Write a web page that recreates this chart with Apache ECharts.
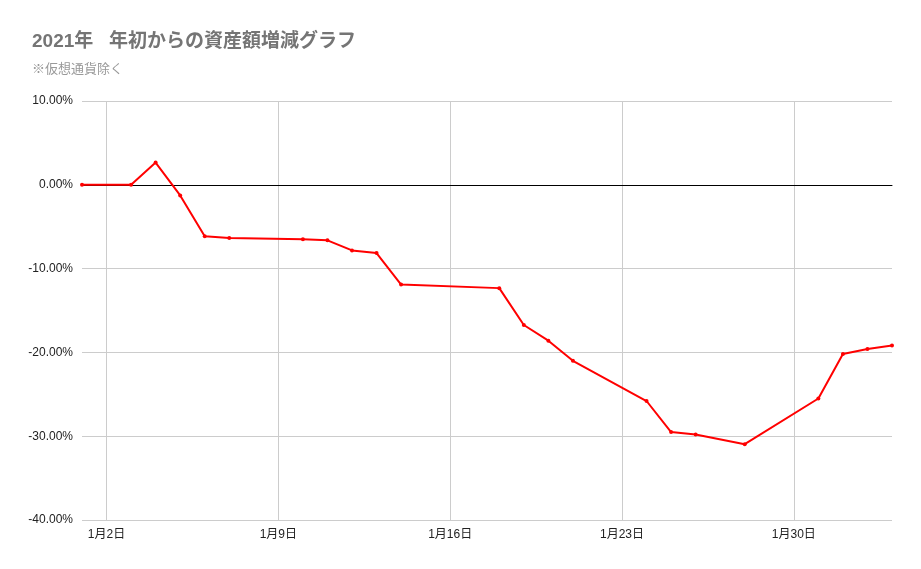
<!DOCTYPE html>
<html>
<head>
<meta charset="utf-8">
<script src="https://cdn.jsdelivr.net/npm/echarts@6/dist/echarts.min.js"></script>
<style>
html,body{margin:0;padding:0;background:#fff;}
#chart{width:921px;height:569px;}
</style>
</head>
<body>
<div id="chart"></div>
<script>
// 日付の並び（1月1日〜2月3日）
var days = [];
for (var d = 1; d <= 31; d++) days.push('1月' + d + '日');
for (var d = 1; d <= 3; d++) days.push('2月' + d + '日');

// 記録のある日と増減率(%)
var dates = ['1月1日','1月3日','1月4日','1月5日','1月6日','1月7日','1月10日','1月11日','1月12日','1月13日',
	'1月14日','1月18日','1月19日','1月20日','1月21日','1月24日','1月25日','1月26日','1月28日',
	'1月31日','2月1日','2月2日','2月3日'];
var rates = [0, 0, 2.65, -1.27, -6.15, -6.35, -6.5, -6.63, -7.83, -8.15,
	-11.9, -12.33, -16.73, -18.6, -21.0, -25.8, -29.5, -29.8, -30.95,
	-25.5, -20.2, -19.6, -19.18];

// 目盛りを表示する日
var labelDays = ['1月2日','1月9日','1月16日','1月23日','1月30日'];

var points = dates.map(function (t, i) { return [t, rates[i]]; });

function showDay(idx, val) {
	return labelDays.indexOf(val) >= 0;
}

var myChart = echarts.init(document.getElementById('chart'));
myChart.setOption({
	animation: false,
	title: {
		text: '2021年   年初からの資産額増減グラフ',
		subtext: '※仮想通貨除く',
		left: 27,
		top: 27,
		itemGap: 11,
		textStyle: { fontSize: 19, fontWeight: 'bold', color: '#757575', fontFamily: 'Liberation Sans, Noto Sans CJK JP' },
		subtextStyle: { fontSize: 13, color: '#999999', fontFamily: 'Noto Sans CJK JP' }
	},
	grid: { left: 82, right: 29, top: 101, bottom: 49, containLabel: false },
	xAxis: {
		type: 'category',
		data: days,
		boundaryGap: false,
		axisLine: { show: true, onZero: true, lineStyle: { color: '#000000', width: 1 } },
		axisTick: { show: false },
		axisLabel: {
			interval: showDay,
			color: '#222222',
			fontSize: 12,
			margin: 9,
			fontFamily: 'Liberation Sans, Noto Sans CJK JP'
		},
		splitLine: { show: true, interval: showDay, lineStyle: { color: '#cccccc', width: 1 } }
	},
	yAxis: {
		type: 'value',
		min: -40,
		max: 10,
		interval: 10,
		axisLine: { show: false },
		axisTick: { show: false },
		axisLabel: {
			formatter: function (v) { return v.toFixed(2) + '%'; },
			color: '#222222',
			fontSize: 12,
			margin: 9,
			fontFamily: 'Liberation Sans'
		},
		splitLine: { lineStyle: { color: '#cccccc', width: 1 } }
	},
	series: [{
		type: 'line',
		data: points,
		connectNulls: true,
		symbol: 'circle',
		symbolSize: 4,
		itemStyle: { color: '#ff0000' },
		lineStyle: { color: '#ff0000', width: 2 },
		z: 5
	}]
});
</script>
</body>
</html>
